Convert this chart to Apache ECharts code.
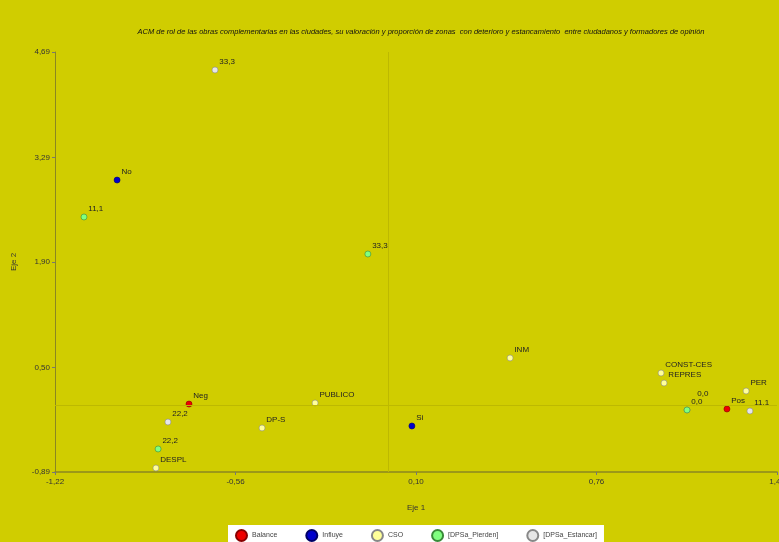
<!DOCTYPE html>
<html><head><meta charset="utf-8">
<script src="https://cdn.jsdelivr.net/npm/echarts@6/dist/echarts.min.js"></script>
<style>html,body{margin:0;padding:0;background:#d0cd00}#c{width:779px;height:542px}</style>
</head><body><div id="c"></div>
<script>
const titleText = 'ACM de rol de las obras complementarias en las ciudades, su valoración y proporción de zonas  con deterioro y estancamiento  entre ciudadanos y formadores de opinión';
const xTicks = [-1.22, -0.56, 0.10, 0.76, 1.42];
const yTicks = [-0.89, 0.50, 1.90, 3.29, 4.69];

const balanceNames = ['Neg', 'Pos'];
const balanceX = [-0.730, 1.237];
const balanceY = [0.013, -0.053];

const influyeNames = ['No', 'Si'];
const influyeX = [-0.993, 0.085];
const influyeY = [2.989, -0.279];

const csoNames = ['DESPL', 'DP-S', 'PUBLICO', 'INM', 'CONST-CES', 'REPRES', 'PER'];
const csoX = [-0.851, -0.463, -0.269, 0.444, 0.996, 1.007, 1.307];
const csoY = [-0.837, -0.305, 0.027, 0.625, 0.425, 0.292, 0.186];

const pierdenNames = ['11,1', '22,2', '33,3', '0,0'];
const pierdenX = [-1.114, -0.843, -0.076, 1.091];
const pierdenY = [2.498, -0.584, 2.006, -0.066];

const estancarNames = ['33,3', '22,2', '11,1', '0,0'];
const estancarX = [-0.635, -0.807, 1.321, 1.091];
const estancarY = [4.451, -0.226, -0.080, -0.066];

const FONT = '"Liberation Sans", Arial, sans-serif';
const fmt = v => v.toFixed(2).replace('.', ',');

function pts(names, xs, ys) {
  return names.map((n, i) => ({ name: n, value: [xs[i], ys[i]] }));
}
function mkSeries(name, names, xs, ys, color, border) {
  return {
    name: name, type: 'scatter', symbol: 'circle', symbolSize: 6,
    data: pts(names, xs, ys),
    itemStyle: { color: color, borderColor: border, borderWidth: 0.6, opacity: 1 },
    label: {
      show: true, formatter: p => p.name, position: 'right', distance: 1,
      offset: [0, -8], fontFamily: FONT, fontSize: 8, color: '#222'
    },
    emphasis: { disabled: true }
  };
}

const series = [
  mkSeries('[DPSa_Estancar]', estancarNames, estancarX, estancarY, '#e6e6e6', '#888'),
  mkSeries('CSO', csoNames, csoX, csoY, '#ffff99', '#888'),
  mkSeries('[DPSa_Pierden]', pierdenNames, pierdenX, pierdenY, '#80ff80', '#3a8a3a'),
  mkSeries('Influye', influyeNames, influyeX, influyeY, '#0000cc', '#000066'),
  mkSeries('Balance', balanceNames, balanceX, balanceY, '#ee0000', '#880000')
];
series[0].data[3].label = { offset: [6, -16] };
series[0].markLine = {
  silent: true, symbol: 'none', animation: false,
  lineStyle: { color: '#bdb900', width: 1, type: 'solid' },
  label: { show: false },
  data: [{ xAxis: 0 }, { yAxis: 0 }]
};

const chart = echarts.init(document.getElementById('c'));
chart.setOption({
  backgroundColor: '#d0cd00',
  animation: false,
  title: {
    text: titleText, left: 416, top: 23, textAlign: 'center',
    textStyle: { fontFamily: FONT, fontSize: 7.5, fontStyle: 'italic', fontWeight: 'normal', color: '#111' }
  },
  legend: {
    data: ['Balance', 'Influye', 'CSO', '[DPSa_Pierden]', '[DPSa_Estancar]'],
    left: 228, top: 525, backgroundColor: '#ffffff', padding: [4, 7, 6, 7],
    itemWidth: 11, itemHeight: 11, itemGap: 28, icon: 'circle',
    textStyle: { fontFamily: FONT, fontSize: 7, color: '#444' }
  },
  grid: { left: 55, right: 2, top: 52, bottom: 70, containLabel: false, outerBoundsMode: 'none' },
  xAxis: {
    type: 'value', min: xTicks[0], max: xTicks[xTicks.length - 1],
    name: 'Eje 1', nameLocation: 'middle', nameGap: 32,
    nameTextStyle: { fontFamily: FONT, fontSize: 8, color: '#333' },
    axisLine: { show: true, onZero: false, lineStyle: { color: '#8a8720', width: 1.5 } },
    axisTick: { show: true, length: 3, customValues: xTicks, lineStyle: { color: '#777' } },
    axisLabel: { customValues: xTicks, formatter: fmt, fontFamily: FONT, fontSize: 8, color: '#333', margin: 6 },
    splitLine: { show: false }
  },
  yAxis: {
    type: 'value', min: yTicks[0], max: yTicks[yTicks.length - 1],
    name: 'Eje 2', nameLocation: 'middle', nameGap: 37, nameRotate: 90,
    nameTextStyle: { fontFamily: FONT, fontSize: 8, color: '#333' },
    axisLine: { show: true, onZero: false, lineStyle: { color: '#8a8720', width: 1 } },
    axisTick: { show: true, length: 3, customValues: yTicks, lineStyle: { color: '#777' } },
    axisLabel: { customValues: yTicks, formatter: fmt, fontFamily: FONT, fontSize: 8, color: '#333', margin: 5 },
    splitLine: { show: false }
  },
  series: series
});
</script>
</body></html>
